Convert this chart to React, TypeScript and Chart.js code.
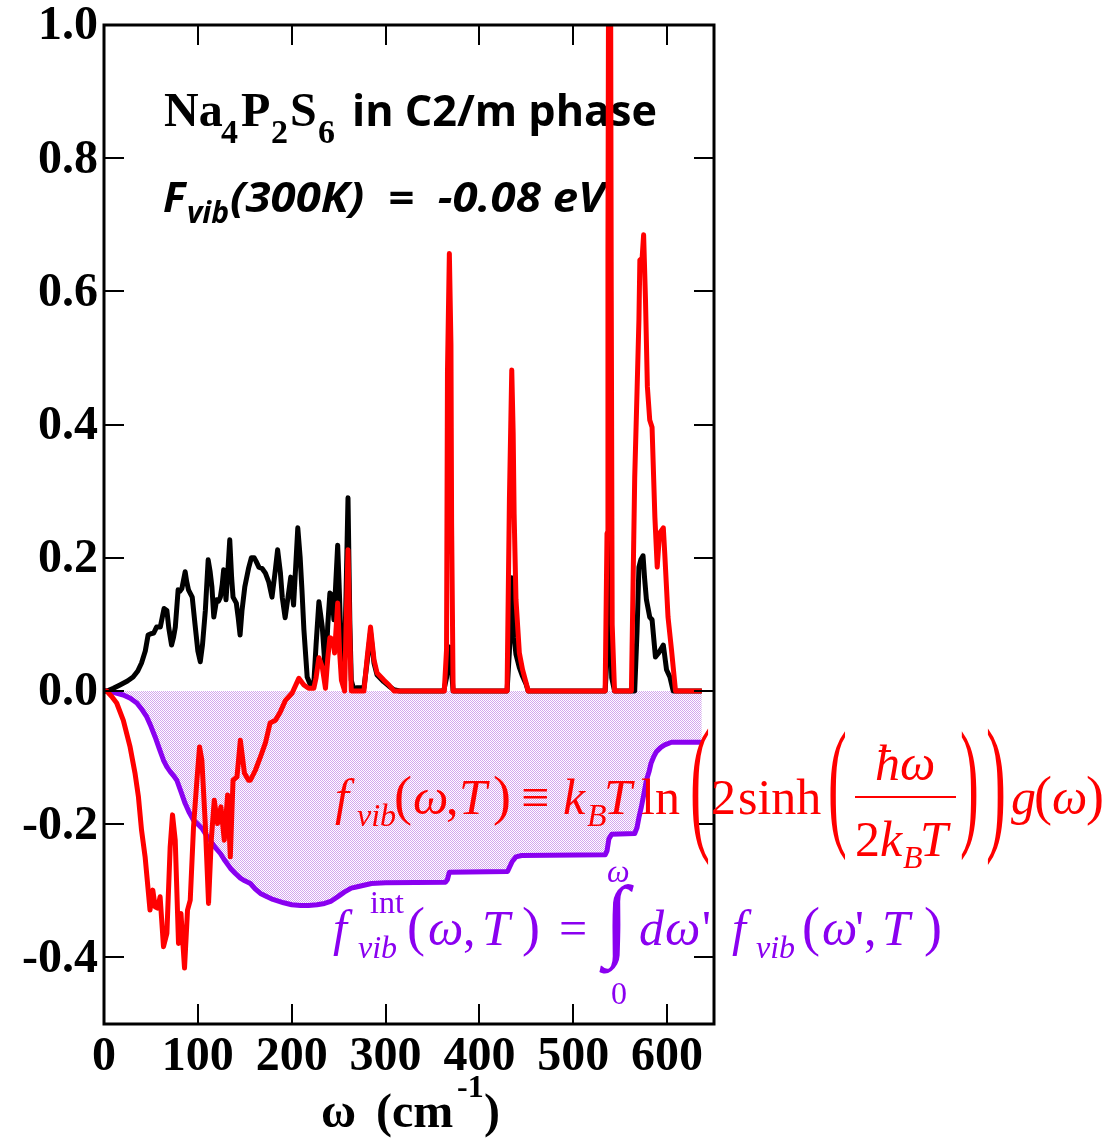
import React, { useEffect, useRef } from "react";
import { Chart, registerables } from "chart.js";

Chart.register(...registerables);

// g(omega) — phonon DOS (black)
const blackW = [0, 3, 10, 17, 25, 31, 36, 40, 44, 47, 50, 53, 56, 60, 62, 64, 67, 69, 72, 74, 76, 79, 81, 83, 86.5, 88, 90, 94, 97, 100, 102.6, 105, 108, 111, 113, 115, 117, 120, 122, 124, 126, 127.5, 130, 132, 134, 136, 137.5, 141, 143, 145, 147, 150, 154, 157, 160, 162, 165, 168.5, 172, 175.5, 179, 182, 185, 188, 190, 193, 196, 199, 202, 204, 206.5, 209, 211, 213, 216.5, 220, 223.6, 226, 229, 232.6, 236, 238.5, 240.7, 243, 245, 249, 251, 253, 255.7, 258, 260, 262, 263.5, 266, 270, 277, 280.5, 284, 287.7, 291, 298, 304, 309, 315, 362, 365, 368, 370.4, 372, 429.5, 432, 434.5, 437, 439, 442.6, 446, 449.8, 452, 534, 536, 539, 541, 544, 565.5, 568, 570, 572, 574.4, 576, 578, 581.5, 584, 587.6, 591, 593, 596, 599.4, 603, 606.5, 637];
const blackG = [0, 0, 0.004, 0.009, 0.015, 0.021, 0.03, 0.042, 0.06, 0.084, 0.086, 0.087, 0.096, 0.096, 0.11, 0.124, 0.121, 0.095, 0.069, 0.08, 0.096, 0.152, 0.15, 0.154, 0.179, 0.165, 0.152, 0.141, 0.1, 0.06, 0.044, 0.07, 0.121, 0.197, 0.18, 0.156, 0.111, 0.137, 0.135, 0.141, 0.16, 0.182, 0.137, 0.18, 0.227, 0.17, 0.141, 0.132, 0.11, 0.084, 0.12, 0.156, 0.184, 0.2, 0.2, 0.195, 0.186, 0.184, 0.177, 0.164, 0.141, 0.175, 0.212, 0.177, 0.14, 0.11, 0.14, 0.171, 0.129, 0.18, 0.245, 0.201, 0.15, 0.092, 0.021, 0.009, 0.012, 0.07, 0.134, 0.096, 0.027, 0.1, 0.147, 0.144, 0.107, 0.219, 0.14, 0.051, 0.009, 0.15, 0.29, 0.1, 0.016, 0.003, 0.005, 0.005, 0.045, 0.088, 0.042, 0.024, 0.014, 0.007, 0.002, 0, 0, 0.02, 0.066, 0.03, 0, 0, 0.06, 0.17, 0.08, 0.055, 0.035, 0.022, 0.01, 0, 0, 0.05, 0.23, 0.02, 0, 0, 0.09, 0.186, 0.197, 0.203, 0.17, 0.137, 0.111, 0.107, 0.051, 0.057, 0.062, 0.069, 0.032, 0.021, 0, 0];

// f_vib(omega, T) (red)
const redW = [0, 3, 8, 13.5, 20.6, 27.8, 33, 36.7, 40, 43.8, 47.4, 49, 52, 54.5, 57, 59.8, 63.4, 67, 70.5, 73, 75.9, 79.4, 82, 85.8, 89, 91.9, 95.4, 99, 101.8, 104.3, 107.9, 111.4, 114.3, 117.5, 121, 124.6, 128.2, 131.7, 134.6, 137.5, 141.7, 145.3, 149.6, 154, 156, 161.3, 166.7, 172, 177, 182.7, 188, 193.4, 200.5, 207.6, 213, 218, 223.6, 226, 229, 232.6, 236, 238.5, 240.7, 244, 245.7, 249, 251, 253, 256.4, 258, 260, 262, 263.5, 277, 280.5, 284, 287.7, 291, 298.4, 303.7, 309, 362.6, 365, 366, 368, 369.7, 370.4, 372, 429.5, 432, 434.5, 436, 437, 439, 442.6, 446, 449.8, 452, 534, 536, 537, 538, 539.5, 540.5, 541.5, 544, 562, 565.5, 568, 570, 571, 573.4, 575, 577, 579, 581.5, 584, 587, 589.5, 592, 596, 597.5, 601, 604.7, 609, 637];
const redF = [0, 0, -0.008, -0.018, -0.044, -0.084, -0.123, -0.159, -0.209, -0.249, -0.304, -0.329, -0.299, -0.324, -0.326, -0.309, -0.384, -0.364, -0.234, -0.186, -0.224, -0.379, -0.334, -0.416, -0.329, -0.314, -0.204, -0.134, -0.084, -0.104, -0.199, -0.319, -0.224, -0.164, -0.199, -0.174, -0.224, -0.156, -0.249, -0.134, -0.129, -0.074, -0.123, -0.134, -0.134, -0.119, -0.099, -0.078, -0.048, -0.044, -0.031, -0.014, -0.003, 0.019, 0.009, 0.004, 0.004, 0.02, 0.05, 0.036, 0.004, 0.05, 0.08, 0.077, 0.057, 0.132, 0.06, 0.016, 0, 0.1, 0.212, 0.08, 0, 0, 0.051, 0.096, 0.047, 0.027, 0.016, 0.009, 0, 0, 0.062, 0.48, 0.657, 0.52, 0.252, 0, 0, 0.287, 0.482, 0.387, 0.267, 0.137, 0.057, 0.032, 0.012, 0, 0, 0.237, 0.66, 1.3, 1.3, 0.6, 0.1, 0, 0, 0.32, 0.45, 0.557, 0.647, 0.65, 0.685, 0.587, 0.457, 0.407, 0.396, 0.261, 0.186, 0.237, 0.245, 0.207, 0.111, 0.062, 0, 0];

// integrated f_vib (purple)
const purpleW = [0, 3, 10, 20.6, 28, 35, 40, 45.6, 50, 54.5, 59, 63.4, 67, 70.5, 74, 77.6, 82, 86.5, 91, 95.4, 100, 104.3, 108, 113, 118, 124, 129, 134.6, 140, 145.3, 150, 156, 161, 166.7, 173.8, 180, 191.5, 200, 209.4, 218, 227, 235, 241.5, 250, 256, 263.5, 270, 285, 300, 364, 366, 368, 430, 432, 435, 439, 445, 534, 536, 538, 541, 565.5, 568, 570, 572.6, 575, 578, 581, 583, 586, 588.7, 593, 597.5, 604.7, 637];
const purpleF = [0, 0, -0.002, -0.006, -0.011, -0.018, -0.027, -0.039, -0.053, -0.069, -0.087, -0.104, -0.114, -0.121, -0.127, -0.134, -0.151, -0.169, -0.183, -0.194, -0.2, -0.206, -0.214, -0.224, -0.234, -0.244, -0.255, -0.266, -0.274, -0.281, -0.285, -0.289, -0.297, -0.304, -0.309, -0.313, -0.318, -0.321, -0.322, -0.322, -0.321, -0.319, -0.316, -0.308, -0.302, -0.296, -0.294, -0.289, -0.288, -0.287, -0.283, -0.272, -0.271, -0.265, -0.256, -0.249, -0.247, -0.246, -0.24, -0.222, -0.215, -0.214, -0.205, -0.19, -0.174, -0.157, -0.134, -0.12, -0.108, -0.098, -0.091, -0.085, -0.081, -0.077, -0.077];

const xTicks = [0, 100, 200, 300, 400, 500, 600];
const yTicks = [-0.4, -0.2, 0, 0.2, 0.4, 0.6, 0.8, 1.0];

const RED = "#ff0000";
const PURPLE = "#8a00f0";
const SERIF = "'Liberation Serif', 'Times New Roman', serif";
const SANS = "'Open Sans', 'DejaVu Sans', sans-serif";

function pts(w: number[], v: number[]) {
  return w.map((x, i) => ({ x, y: v[i] }));
}

function txt(ctx: CanvasRenderingContext2D, t: string, x: number, y: number, font: string) {
  ctx.font = font;
  ctx.fillText(t, x, y);
}

// text squeezed/stretched horizontally to a target width
function fitTxt(ctx: CanvasRenderingContext2D, t: string, x: number, y: number, font: string, width: number) {
  ctx.save();
  ctx.font = font;
  const w = ctx.measureText(t).width;
  ctx.translate(x, y);
  ctx.scale(width / w, 1);
  ctx.fillText(t, 0, 0);
  ctx.restore();
}

// stretched glyph (parens, integral) fitted between yTop and yBottom
function stretchGlyph(ctx: CanvasRenderingContext2D, ch: string, x: number, yTop: number, yBottom: number, sx: number, weight = "") {
  ctx.save();
  ctx.font = `${weight} 100px ${SERIF}`;
  const m = ctx.measureText(ch);
  const h = m.actualBoundingBoxAscent + m.actualBoundingBoxDescent;
  const size = (100 * (yBottom - yTop)) / h;
  ctx.font = `${weight} ${size}px ${SERIF}`;
  const m2 = ctx.measureText(ch);
  ctx.translate(x, yTop + m2.actualBoundingBoxAscent);
  ctx.scale(sx, 1);
  ctx.fillText(ch, 0, 0);
  ctx.restore();
}

const decor = {
  id: "decor",
  beforeDatasetsDraw(chart: any) {
    const ctx: CanvasRenderingContext2D = chart.ctx;
    ctx.save();
    ctx.fillStyle = "#000";
    ctx.textBaseline = "alphabetic";
    ctx.textAlign = "left";
    const B = `bold 48px ${SERIF}`;
    const Bs = `bold 34px ${SERIF}`;
    txt(ctx, "Na", 164, 126, B);
    txt(ctx, "4", 221, 143, Bs);
    txt(ctx, "P", 241, 126, B);
    txt(ctx, "2", 271, 143, Bs);
    txt(ctx, "S", 290, 126, B);
    txt(ctx, "6", 318, 143, Bs);
    fitTxt(ctx, "in C2/m phase", 352, 126, `bold 43px ${SANS}`, 305);
    txt(ctx, "F", 163, 212, `italic bold 42px ${SANS}`);
    txt(ctx, "vib", 187, 223, `italic bold 30px ${SANS}`);
    fitTxt(ctx, "(300K)  =  -0.08 eV", 230, 212, `italic bold 42px ${SANS}`, 375);
    ctx.restore();
  },
  afterDatasetsDraw(chart: any) {
    const ctx: CanvasRenderingContext2D = chart.ctx;
    const a = chart.chartArea;
    const xs = chart.scales.x;
    const ys = chart.scales.y;
    ctx.save();
    ctx.strokeStyle = "#000";
    ctx.lineWidth = 2;
    const TL = 20;
    ctx.beginPath();
    for (const v of xTicks) {
      const px = Math.round(xs.getPixelForValue(v));
      ctx.moveTo(px, a.bottom);
      ctx.lineTo(px, a.bottom - TL);
      ctx.moveTo(px, a.top);
      ctx.lineTo(px, a.top + TL);
    }
    for (const v of yTicks) {
      const py = Math.round(ys.getPixelForValue(v));
      ctx.moveTo(a.left, py);
      ctx.lineTo(a.left + TL, py);
      ctx.moveTo(a.right, py);
      ctx.lineTo(a.right - TL, py);
    }
    ctx.stroke();
    ctx.lineWidth = 3;
    ctx.strokeRect(a.left, a.top, a.right - a.left, a.bottom - a.top);

    ctx.fillStyle = "#000";
    ctx.font = `bold 48px ${SERIF}`;
    ctx.textAlign = "right";
    ctx.textBaseline = "middle";
    for (const v of yTicks) {
      ctx.fillText(v.toFixed(1), a.left - 6, ys.getPixelForValue(v) + 2);
    }
    ctx.textAlign = "center";
    ctx.textBaseline = "alphabetic";
    for (const v of xTicks) {
      ctx.fillText(String(v), xs.getPixelForValue(v), 1070);
    }
    // axis title
    ctx.textAlign = "left";
    txt(ctx, "\u03c9", 321, 1127, `bold 48px ${SERIF}`);
    txt(ctx, "(cm", 376, 1127, `bold 48px ${SERIF}`);
    txt(ctx, "-1", 457, 1097, `bold 32px ${SERIF}`);
    txt(ctx, ")", 484, 1127, `bold 48px ${SERIF}`);
    ctx.restore();
  },
  afterDraw(chart: any) {
    const ctx: CanvasRenderingContext2D = chart.ctx;
    ctx.save();
    ctx.textAlign = "left";
    ctx.textBaseline = "alphabetic";
    const I = `italic 50px ${SERIF}`;
    const R = `50px ${SERIF}`;
    const P = `54px ${SERIF}`;
    const Is = `italic 32px ${SERIF}`;
    const Rs = `32px ${SERIF}`;

    // red formula
    ctx.fillStyle = RED;
    let y = 814;
    txt(ctx, "f", 335, y, I);
    txt(ctx, "vib", 357, y + 12, Is);
    txt(ctx, "(", 394, y, P);
    txt(ctx, "\u03c9", 413, y, I);
    txt(ctx, ",", 446, y, R);
    txt(ctx, "T", 459, y, I);
    txt(ctx, ")", 493, y, P);
    txt(ctx, "\u2261", 521, y, R);
    txt(ctx, "k", 563, y, I);
    txt(ctx, "B", 587, y + 12, Is);
    txt(ctx, "T", 604, y, I);
    txt(ctx, "ln", 641, y, R);
    stretchGlyph(ctx, "(", 690, 728, 866, 0.4);
    txt(ctx, "2", 711, y, R);
    txt(ctx, "sinh", 738, y, R);
    stretchGlyph(ctx, "(", 828, 731, 861, 0.4);
    txt(ctx, "\u0127\u03c9", 875, 780, I);
    ctx.fillRect(855, 796, 101, 2);
    txt(ctx, "2", 855, 856, R);
    txt(ctx, "k", 880, 856, I);
    txt(ctx, "B", 903, 868, Is);
    txt(ctx, "T", 920, 856, I);
    stretchGlyph(ctx, ")", 960, 731, 861, 0.4);
    stretchGlyph(ctx, ")", 986, 728, 866, 0.4);
    txt(ctx, "g", 1011, y, I);
    txt(ctx, "(", 1034, y, P);
    txt(ctx, "\u03c9", 1052, y, I);
    txt(ctx, ")", 1086, y, P);

    // purple formula
    ctx.fillStyle = PURPLE;
    y = 945;
    txt(ctx, "f", 333, y, I);
    txt(ctx, "int", 370, 913, Rs);
    txt(ctx, "vib", 358, y + 13, Is);
    txt(ctx, "(", 407, y, P);
    txt(ctx, "\u03c9", 428, y, I);
    txt(ctx, ",", 463, y, R);
    txt(ctx, "T", 482, y, I);
    txt(ctx, ")", 522, y, P);
    txt(ctx, "=", 559, y, R);
    stretchGlyph(ctx, "\u222b", 604, 884, 974, 1.0);
    txt(ctx, "\u03c9", 607, 882, Is);
    txt(ctx, "0", 611, 1004, Rs);
    txt(ctx, "d", 639, y, I);
    txt(ctx, "\u03c9", 665, y, I);
    txt(ctx, "'", 702, y, R);
    txt(ctx, "f", 732, y, I);
    txt(ctx, "vib", 756, y + 13, Is);
    txt(ctx, "(", 802, y, P);
    txt(ctx, "\u03c9", 822, y, I);
    txt(ctx, "'", 855, y, R);
    txt(ctx, ",", 864, y, R);
    txt(ctx, "T", 882, y, I);
    txt(ctx, ")", 924, y, P);
    ctx.restore();
  },
};

export default function App() {
  const ref = useRef<HTMLCanvasElement | null>(null);
  useEffect(() => {
    const canvas = ref.current!;
    const ctx = canvas.getContext("2d")!;
    const pc = document.createElement("canvas");
    pc.width = 2;
    pc.height = 2;
    const g = pc.getContext("2d")!;
    g.fillStyle = "rgb(212,165,238)";
    g.fillRect(0, 0, 1, 1);
    g.fillRect(1, 1, 1, 1);
    const pattern = ctx.createPattern(pc, "repeat")!;

    const chart = new Chart(canvas, {
      type: "line",
      data: {
        datasets: [
          {
            data: pts(purpleW, purpleF),
            borderColor: PURPLE,
            borderWidth: 5,
            backgroundColor: pattern as any,
            fill: "origin",
            pointRadius: 0,
            tension: 0,
            order: 3,
            borderJoinStyle: "round",
          },
          {
            data: pts(blackW, blackG),
            borderColor: "#000",
            borderWidth: 5,
            fill: false,
            pointRadius: 0,
            tension: 0,
            order: 2,
            borderJoinStyle: "round",
          },
          {
            data: pts(redW, redF),
            borderColor: RED,
            borderWidth: 5,
            fill: false,
            pointRadius: 0,
            tension: 0,
            order: 1,
            borderJoinStyle: "round",
          },
        ],
      },
      options: {
        responsive: false,
        animation: false,
        parsing: true,
        layout: { padding: { left: 104, right: 1119 - 714, top: 25, bottom: 1139 - 1024 } },
        scales: {
          x: { type: "linear", min: 0, max: 650, display: false },
          y: { type: "linear", min: -0.5, max: 1.0, display: false },
        },
        plugins: { legend: { display: false }, tooltip: { enabled: false } },
      },
      plugins: [decor],
    });
    return () => chart.destroy();
  }, []);

  return (
    <div style={{ position: "absolute", left: 0, top: 0, width: 1119, height: 1139, background: "#fff" }}>
      <canvas ref={ref} width={1119} height={1139} style={{ display: "block" }} />
    </div>
  );
}
